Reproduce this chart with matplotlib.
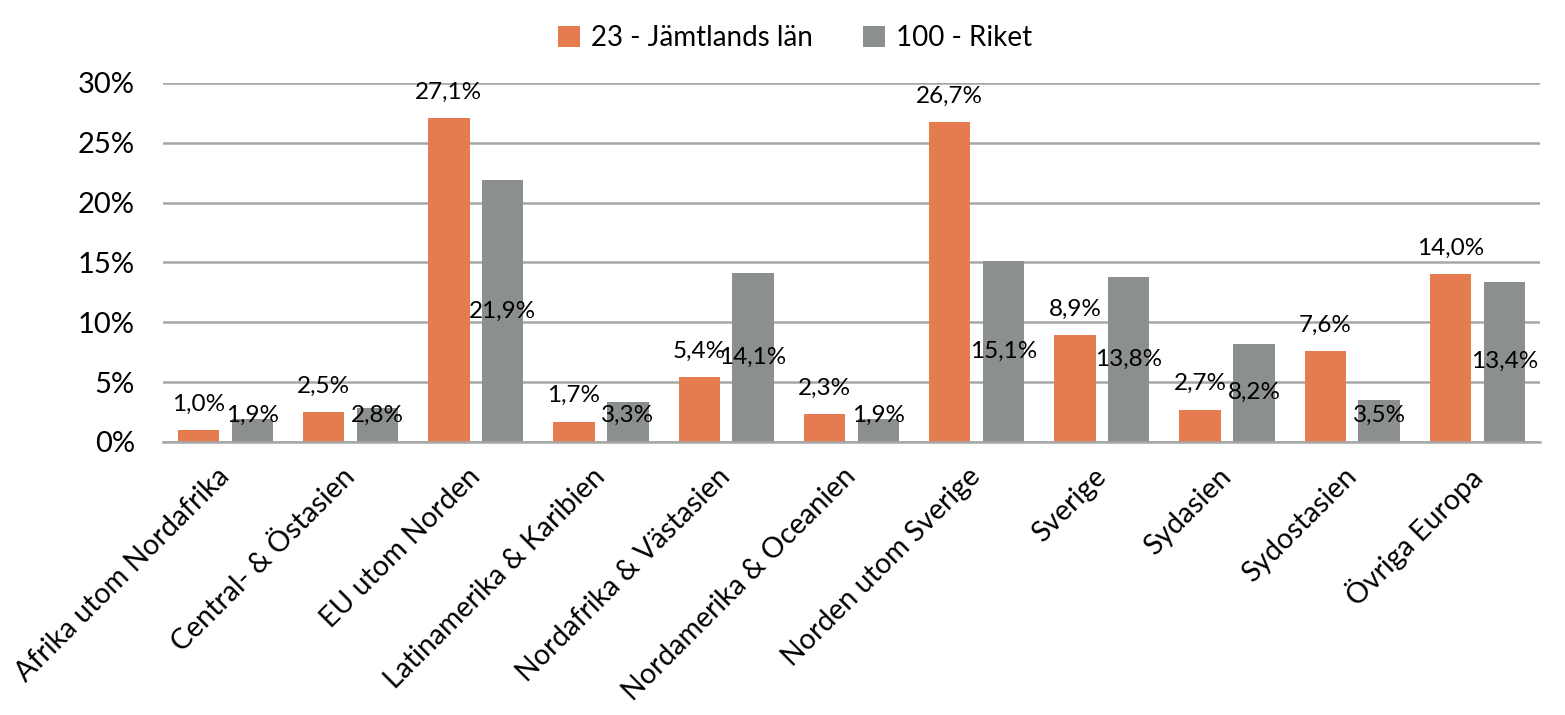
import matplotlib.pyplot as plt
import numpy as np

plt.rcParams['font.family'] = ['Lato', 'DejaVu Sans']

kategorier = ["Afrika utom Nordafrika", "Central- & Östasien", "EU utom Norden",
              "Latinamerika & Karibien", "Nordafrika & Västasien",
              "Nordamerika & Oceanien", "Norden utom Sverige", "Sverige",
              "Sydasien", "Sydostasien", "Övriga Europa"]
jamtland = [1.0, 2.5, 27.1, 1.7, 5.4, 2.3, 26.7, 8.9, 2.7, 7.6, 14.0]
riket = [1.9, 2.8, 21.9, 3.3, 14.1, 1.9, 15.1, 13.8, 8.2, 3.5, 13.4]
serier = ["23 - Jämtlands län", "100 - Riket"]

orange = "#E57C50"
gra = "#8C908D"

fig = plt.figure(figsize=(15.65, 7.15), dpi=100)
ax = fig.add_axes([0.104, 0.382, 0.88, 0.502])

x = np.arange(len(kategorier))
w = 0.33
off = 0.215
ax.bar(x - off, jamtland, w, color=orange, label=serier[0], zorder=3)
ax.bar(x + off, riket, w, color=gra, label=serier[1], zorder=3)

def fmt(v):
    return f"{v:.1f}".replace(".", ",") + "%"

for xi, v in zip(x, jamtland):
    ax.text(xi - off, v + 2.15, fmt(v), ha="center", va="center", fontsize=17.5, zorder=4)
for xi, v in zip(x, riket):
    ax.text(xi + off, max(v / 2, 2.25), fmt(v), ha="center", va="center", fontsize=17.5, zorder=4)

ax.set_xlim(-0.5, len(kategorier) - 0.5)
ax.set_ylim(0, 30)
ax.set_yticks(range(0, 31, 5))
ax.set_yticklabels([f"{t}%" for t in range(0, 31, 5)], fontsize=21)
ax.yaxis.grid(True, color="#A6A6A6", linewidth=1.8, zorder=0)
ax.tick_params(axis="y", length=0, pad=20)
ax.tick_params(axis="x", length=0, pad=22)
ax.set_xticks(x)
ax.set_xticklabels(kategorier, rotation=45, ha="right", va="center",
                   rotation_mode="anchor", fontsize=20.5)
for s in ["top", "right", "left"]:
    ax.spines[s].set_visible(False)
ax.spines["bottom"].set_color("#A6A6A6")
ax.spines["bottom"].set_linewidth(1.8)
ax.spines["bottom"].set_zorder(5)

fig.legend(loc="upper center", bbox_to_anchor=(0.508, 1.0), ncol=2, frameon=False,
           fontsize=20, handlelength=0.8, handleheight=0.8, handletextpad=0.4,
           columnspacing=1.8)

fig.savefig("out.png", dpi=100)
